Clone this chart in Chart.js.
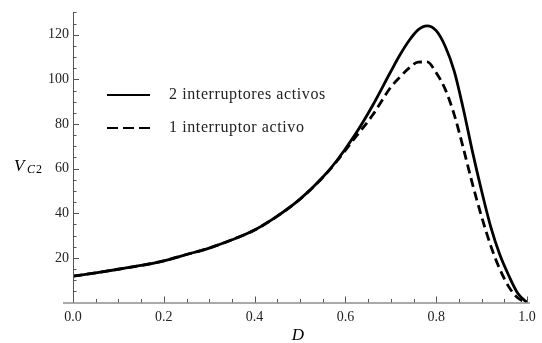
<!DOCTYPE html>
<html lang="es">
  <head>
    <meta charset="UTF-8" />
    <title>V_C2 vs D</title>
    <style>
      html, body { margin: 0; padding: 0; background: #fff; }
      #wrap { width: 542px; height: 343px; }
    </style>
  </head>
  <body>
    <div id="wrap"><canvas id="myChart" width="542" height="343"></canvas></div>

    <script src="https://cdn.jsdelivr.net/npm/chart.js@4.4.1/dist/chart.umd.min.js"></script>
    <script>
      // duty cycle D
      var dValues = [0, 0.05, 0.1, 0.15, 0.2, 0.25, 0.3, 0.35, 0.4, 0.45, 0.5, 0.55,
        0.58, 0.62, 0.66, 0.7, 0.72, 0.74, 0.76, 0.78, 0.8, 0.82, 0.84, 0.86,
        0.88, 0.9, 0.92, 0.94, 0.96, 0.98, 1.0];
      // V_C2 with 2 switches active
      var vcTwo = [11.8, 13.3, 14.9, 16.6, 18.7, 21.5, 24.4, 28.1, 32.5, 38.7, 46.3, 56.1,
        63.3, 74.8, 88.3, 103.5, 110.9, 117.3, 122.2, 124.0, 121.8, 114.7, 103.5, 86.5,
        67.5, 50.0, 34.0, 21.5, 12.0, 4.0, 0];
      // V_C2 with 1 switch active
      var vcOne = [11.8, 13.3, 14.9, 16.6, 18.7, 21.5, 24.4, 28.1, 32.5, 38.7, 46.3, 56.0,
        63.0, 73.5, 84.0, 96.5, 101.0, 105.0, 107.7, 107.8, 103.0, 95.5, 84.0, 69.0,
        53.0, 38.5, 25.5, 15.0, 7.0, 2.0, 0];
      var seriesLabels = ["2 interruptores activos", "1 interruptor activo"];
      var xTicks = [0, 0.2, 0.4, 0.6, 0.8, 1.0];
      var yTicks = [20, 40, 60, 80, 100, 120];

      var axisColor = "#555";
      var textColor = "#222";
      var serif = "'Liberation Serif', 'DejaVu Serif', serif";

      function points(ys) {
        return dValues.map(function (d, i) {
          return { x: d, y: ys[i] };
        });
      }

      // Mathematica style axes, inward ticks, inner legend and axis labels
      var decor = {
        id: "decor",
        afterDraw: function (chart) {
          var ctx = chart.ctx;
          var xs = chart.scales.x, ys = chart.scales.y;
          var area = chart.chartArea;
          var x0 = xs.getPixelForValue(0);
          var y0 = ys.getPixelForValue(0);
          ctx.save();
          ctx.strokeStyle = axisColor;
          ctx.lineWidth = 1;
          ctx.beginPath();
          ctx.moveTo(area.left - 10, y0 + 0.5);
          ctx.lineTo(area.right + 3, y0 + 0.5);
          ctx.moveTo(x0 + 0.5, area.top);
          ctx.lineTo(x0 + 0.5, y0);
          ctx.stroke();

          ctx.beginPath();
          for (var k = 1; k <= 20; k++) {
            var v = k * 0.05;
            var px = Math.round(xs.getPixelForValue(v)) + 0.5;
            var len = k % 4 === 0 ? 6 : 3.5;
            ctx.moveTo(px, y0);
            ctx.lineTo(px, y0 - len);
          }
          for (var j = 1; j <= 26; j++) {
            var w = j * 5;
            var py = Math.round(ys.getPixelForValue(w)) + 0.5;
            var l2 = j % 4 === 0 ? 6 : 3.5;
            ctx.moveTo(x0, py);
            ctx.lineTo(x0 + l2, py);
          }
          ctx.stroke();

          // legend
          var lx = 107, lx2 = 150, tx = 169;
          var rows = [95, 128];
          chart.data.datasets.forEach(function (ds, i) {
            ctx.strokeStyle = "#000";
            ctx.lineWidth = 2;
            ctx.setLineDash(ds.borderDash ? [11, 5] : []);
            ctx.beginPath();
            ctx.moveTo(lx, rows[i]);
            ctx.lineTo(lx2, rows[i]);
            ctx.stroke();
            ctx.setLineDash([]);
            ctx.fillStyle = textColor;
            ctx.font = "16px " + serif;
            ctx.letterSpacing = "0.6px";
            ctx.textBaseline = "middle";
            ctx.textAlign = "left";
            ctx.fillText(ds.label, tx, rows[i]);
            ctx.letterSpacing = "0px";
          });

          // axis titles
          ctx.fillStyle = "#000";
          ctx.textBaseline = "alphabetic";
          ctx.textAlign = "center";
          ctx.font = "italic 17px " + serif;
          ctx.fillText("D", 298, 340);
          ctx.textAlign = "left";
          ctx.font = "italic 17px " + serif;
          ctx.fillText("V", 14, 171);
          ctx.font = "italic 12px " + serif;
          ctx.fillText("C", 27, 173);
          ctx.font = "12px " + serif;
          ctx.fillText("2", 36, 173);
          ctx.restore();
        },
      };

      var ctx = document.getElementById("myChart").getContext("2d");
      var myChart = new Chart(ctx, {
        type: "scatter",
        data: {
          datasets: [
            {
              label: seriesLabels[0],
              data: points(vcTwo),
              showLine: true,
              borderColor: "#000",
              borderWidth: 2.8,
              pointRadius: 0,
              cubicInterpolationMode: "monotone",
            },
            {
              label: seriesLabels[1],
              data: points(vcOne),
              showLine: true,
              borderColor: "#000",
              borderWidth: 2.8,
              borderDash: [9, 5],
              pointRadius: 0,
              cubicInterpolationMode: "monotone",
            },
          ],
        },
        options: {
          responsive: false,
          animation: false,
          layout: { padding: { left: 0, right: 15, top: 10, bottom: 0 } },
          plugins: { legend: { display: false }, tooltip: { enabled: false } },
          scales: {
            x: {
              type: "linear",
              min: 0,
              max: 1.0,
              afterBuildTicks: function (s) {
                s.ticks = xTicks.map(function (v) { return { value: v }; });
              },
              afterFit: function (s) { s.height = 40.5; },
              grid: { display: false, drawTicks: false },
              border: { display: false },
              ticks: {
                color: textColor,
                padding: 6,
                maxRotation: 0,
                font: { family: serif, size: 14 },
                callback: function (v) { return v.toFixed(1); },
              },
            },
            y: {
              type: "linear",
              min: 0,
              max: 130,
              afterBuildTicks: function (s) {
                s.ticks = yTicks.map(function (v) { return { value: v }; });
              },
              afterFit: function (s) { s.width = 73; },
              grid: { display: false, drawTicks: false },
              border: { display: false },
              ticks: {
                color: textColor,
                padding: 4,
                font: { family: serif, size: 14 },
              },
            },
          },
        },
        plugins: [decor],
      });
    </script>
  </body>
</html>
